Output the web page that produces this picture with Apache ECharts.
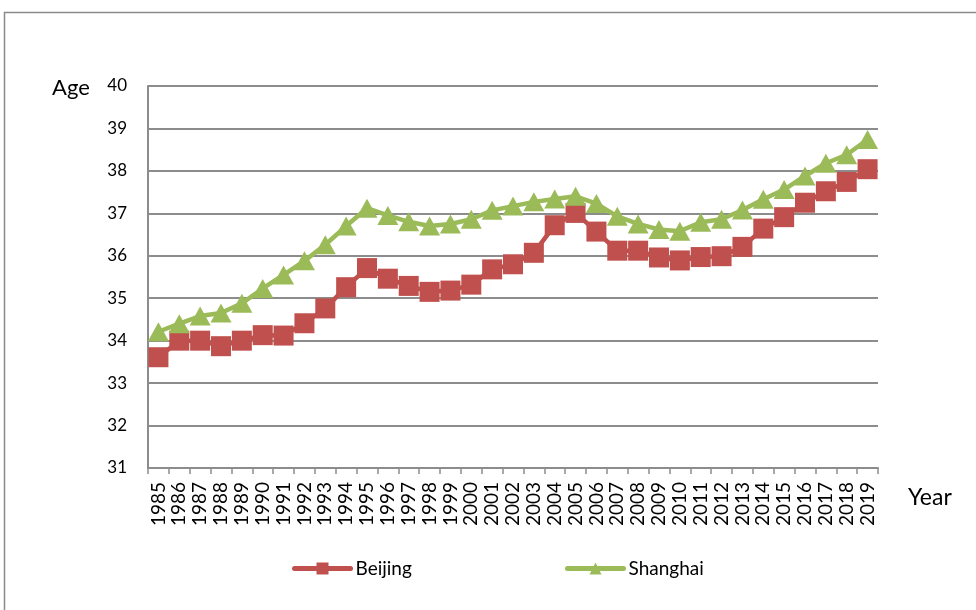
<!DOCTYPE html>
<html>
<head>
<meta charset="utf-8">
<script src="https://cdn.jsdelivr.net/npm/echarts@6/dist/echarts.min.js"></script>
<style>
  html, body { margin: 0; padding: 0; background: #fff; }
  #chart { width: 976px; height: 610px; }
</style>
</head>
<body>
<div id="chart"></div>
<script>
// Median age by year, Beijing vs Shanghai
const years = ['1985','1986','1987','1988','1989','1990','1991','1992','1993','1994',
  '1995','1996','1997','1998','1999','2000','2001','2002','2003','2004',
  '2005','2006','2007','2008','2009','2010','2011','2012','2013','2014',
  '2015','2016','2017','2018','2019'];

const beijing = [33.61, 34.00, 34.00, 33.87, 34.00, 34.13, 34.12, 34.41, 34.76, 35.26,
  35.71, 35.46, 35.29, 35.15, 35.18, 35.32, 35.68, 35.80, 36.07, 36.72,
  37.01, 36.57, 36.12, 36.12, 35.96, 35.89, 35.97, 35.99, 36.21, 36.64,
  36.91, 37.25, 37.52, 37.74, 38.04];

const shanghai = [34.21, 34.40, 34.58, 34.65, 34.88, 35.23, 35.55, 35.88, 36.26, 36.70,
  37.12, 36.95, 36.80, 36.70, 36.75, 36.86, 37.07, 37.17, 37.27, 37.34,
  37.40, 37.23, 36.93, 36.75, 36.62, 36.58, 36.79, 36.86, 37.08, 37.33,
  37.56, 37.88, 38.18, 38.38, 38.74];

const yMin = 31, yMax = 40, yStep = 1;

const FONT = 'Lato, "Open Sans", sans-serif';
const RED = '#C0504D';
const GREEN = '#9BBB59';
const GRID_GRAY = '#8C8C8C';

const chart = echarts.init(document.getElementById('chart'), null, { renderer: 'canvas' });

const legendCommon = {
  top: 559,
  padding: 0,
  itemWidth: 56, itemHeight: 15, itemGap: 4,
  lineStyle: { width: 5, cap: 'round' },
  textStyle: { fontFamily: FONT, fontSize: 19, color: '#000' }
};

chart.setOption({
  animation: false,
  backgroundColor: '#ffffff',
  textStyle: { fontFamily: FONT },
  graphic: [
    {
      type: 'rect',
      shape: { x: 4.5, y: 12.5, width: 1000, height: 700 },
      style: { fill: 'none', stroke: '#8a8a8a', lineWidth: 1.5 },
      silent: true
    },
    {
      type: 'text',
      left: 52, top: 77,
      style: { text: 'Age', fontFamily: FONT, fontSize: 22, fill: '#000' }
    },
    {
      type: 'text',
      left: 908, top: 486,
      style: { text: 'Year', fontFamily: FONT, fontSize: 23, fill: '#000' }
    }
  ],
  grid: { left: 148, right: 98, top: 86, bottom: 142, containLabel: false },
  legend: [
    Object.assign({ data: ['Beijing'], left: 292 }, legendCommon),
    Object.assign({ data: ['Shanghai'], left: 565 }, legendCommon)
  ],
  xAxis: {
    type: 'category',
    data: years,
    boundaryGap: true,
    axisLine: { show: true, lineStyle: { color: GRID_GRAY, width: 2 } },
    axisTick: { show: true, length: 6, alignWithLabel: false, interval: 0, lineStyle: { color: GRID_GRAY, width: 1.5 } },
    axisLabel: {
      interval: 0, rotate: 90, margin: 14,
      fontFamily: FONT, fontSize: 19, color: '#000'
    },
    splitLine: { show: false }
  },
  yAxis: {
    type: 'value',
    min: yMin, max: yMax, interval: yStep,
    axisLine: { show: true, lineStyle: { color: GRID_GRAY, width: 2 } },
    axisTick: { show: false },
    axisLabel: { margin: 21, fontFamily: FONT, fontSize: 17, color: '#000' },
    splitLine: { show: true, lineStyle: { color: GRID_GRAY, width: 2 } }
  },
  series: [
    {
      name: 'Beijing',
      type: 'line',
      data: beijing,
      symbol: 'rect',
      symbolSize: 20,
      lineStyle: { color: RED, width: 4.5 },
      itemStyle: { color: RED, borderColor: RED, borderWidth: 0 }
    },
    {
      name: 'Shanghai',
      type: 'line',
      data: shanghai,
      symbol: 'triangle',
      symbolSize: [21, 19],
      lineStyle: { color: GREEN, width: 4.5 },
      itemStyle: { color: GREEN, borderColor: GREEN, borderWidth: 0 }
    }
  ]
});
</script>
</body>
</html>
